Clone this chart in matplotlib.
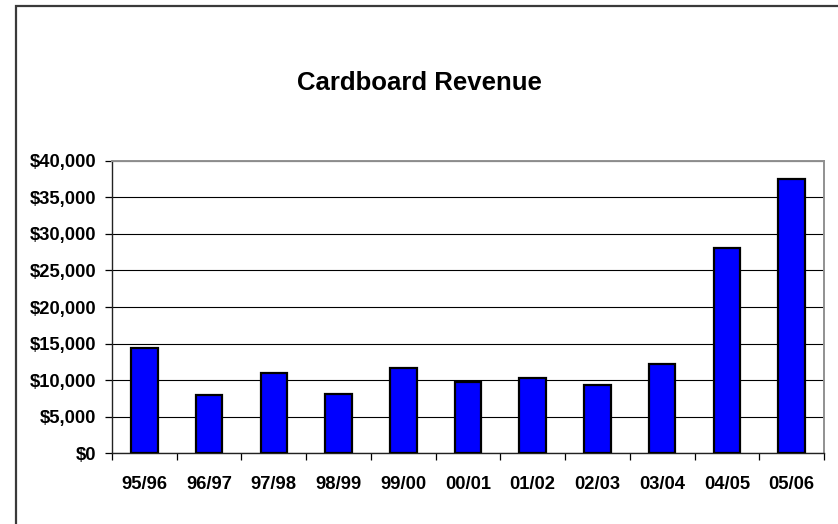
import numpy as np
import matplotlib.pyplot as plt
from matplotlib.patches import Rectangle
from matplotlib.ticker import FuncFormatter, FixedLocator

plt.rcParams["font.family"] = ["Liberation Sans", "DejaVu Sans"]

# ---- data ----
seasons = ["95/96", "96/97", "97/98", "98/99", "99/00", "00/01",
           "01/02", "02/03", "03/04", "04/05", "05/06"]
revenue = [14400, 8000, 11000, 8100, 11600, 9800,
           10300, 9400, 12200, 28100, 37500]
yticks = np.arange(0, 40001, 5000)

fig = plt.figure(figsize=(8.38, 5.24), dpi=100)
ax = fig.add_axes([112 / 838, 1 - 453.3 / 524, 712 / 838, 292.5 / 524])

x = np.arange(len(seasons))
ax.bar(x, revenue, width=0.41, color="#0000FF", edgecolor="black", lw=1.6, zorder=3)

ax.set_xlim(-0.5, len(seasons) - 0.5)
ax.set_ylim(0, 40000)
ax.set_yticks(yticks)
ax.yaxis.set_major_formatter(FuncFormatter(lambda v, p: f"${v:,.0f}"))
ax.yaxis.grid(True, color="black", lw=0.8, zorder=0)

# tick marks at category boundaries, labels at centres
ax.xaxis.set_major_locator(FixedLocator(np.arange(-0.5, len(seasons), 1.0)))
ax.xaxis.set_major_formatter(FuncFormatter(lambda v, p: ""))
ax.xaxis.set_minor_locator(FixedLocator(x))
ax.set_xticklabels(seasons, minor=True)
ax.tick_params(axis="x", which="major", length=5, width=0.9, direction="out")
ax.tick_params(axis="x", which="minor", length=0, pad=16, labelsize=13.2)
ax.tick_params(axis="y", length=5, width=0.9, pad=6.5, labelsize=13.2)
for lab in ax.get_xticklabels(minor=True) + ax.get_yticklabels():
    lab.set_fontweight("bold")

for s in ["left", "bottom"]:
    ax.spines[s].set_color("#222222")
    ax.spines[s].set_linewidth(1.0)
for s in ["top", "right"]:
    ax.spines[s].set_color("#909090")
    ax.spines[s].set_linewidth(1.4)

fig.text(0.5, 1 - 83 / 524, "Cardboard Revenue", ha="center", va="center",
         fontsize=18.5, fontweight="bold")

# outer chart frame (runs off the right and bottom edges)
fig.patches.append(Rectangle((16 / 838, -0.05), 1.0, 1 - 6 / 524 + 0.05,
                             transform=fig.transFigure, fill=False,
                             ec="#3a3a3a", lw=1.6, clip_on=False))

fig.savefig("out.png", dpi=100)
